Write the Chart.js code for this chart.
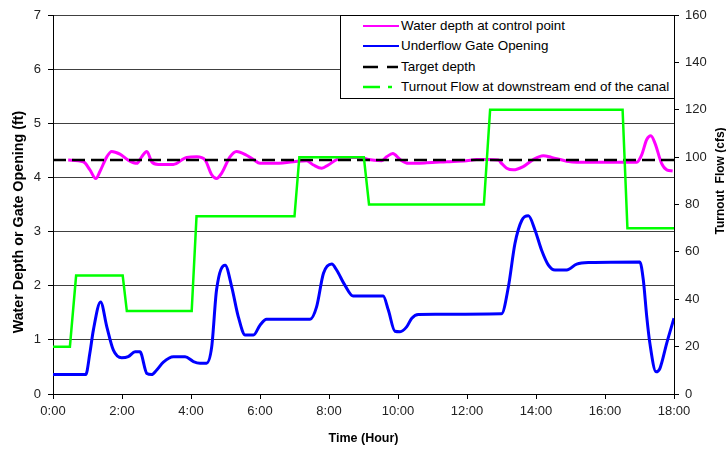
<!DOCTYPE html>
<html>
<head>
<meta charset="utf-8">
<script src="https://cdn.jsdelivr.net/npm/chart.js@4.4.1/dist/chart.umd.min.js"></script>
<style>
  html, body { margin: 0; padding: 0; background: #fff; }
  #wrap { position: relative; width: 726px; height: 450px; font-family: "Liberation Sans", Arial, sans-serif; }
  #legend {
    position: absolute; left: 340px; top: 15px; width: 335px; height: 84px;
    box-sizing: border-box; border: 1px solid #000; background: #fff;
  }
  #legend .row { position: absolute; left: 22px; height: 16px; line-height: 16px; font-size: 13.4px; color: #000; white-space: nowrap; }
  #legend svg { vertical-align: top; margin-right: 2px; }
</style>
</head>
<body>
<div id="wrap">
  <canvas id="chart" width="726" height="450"></canvas>
  <div id="legend"></div>
</div>
<script>
// time in hours
const depthTimes = [0.44, 0.88, 1.07, 1.24, 1.36, 1.56, 1.7, 1.94, 2.18, 2.43, 2.57, 2.72, 2.86, 3.05, 3.49, 3.87, 4.17, 4.41, 4.6, 4.74, 4.89, 5.13, 5.32, 5.61, 5.81, 6.0, 6.39, 6.97, 7.35, 7.55, 7.79, 7.98, 8.22, 8.51, 8.95, 9.14, 9.53, 9.67, 9.85, 10.06, 10.3, 10.83, 11.41, 11.99, 12.28, 12.6, 12.91, 13.0, 13.15, 13.34, 13.63, 13.92, 14.21, 14.45, 14.89, 15.18, 16.92, 17.06, 17.21, 17.33, 17.45, 17.64, 17.79, 17.96];
const depthValues = [4.32, 4.29, 4.14, 3.98, 4.11, 4.38, 4.48, 4.43, 4.32, 4.26, 4.38, 4.48, 4.29, 4.24, 4.24, 4.37, 4.38, 4.32, 4.05, 3.98, 4.08, 4.38, 4.48, 4.41, 4.33, 4.26, 4.26, 4.29, 4.31, 4.23, 4.17, 4.23, 4.33, 4.37, 4.37, 4.33, 4.31, 4.38, 4.44, 4.33, 4.26, 4.27, 4.29, 4.31, 4.33, 4.33, 4.32, 4.26, 4.17, 4.14, 4.20, 4.33, 4.40, 4.37, 4.30, 4.28, 4.28, 4.41, 4.70, 4.77, 4.63, 4.26, 4.14, 4.12];

const gateTimes = [0, 0.95, 1.07, 1.17, 1.38, 1.56, 1.75, 1.99, 2.18, 2.38, 2.52, 2.72, 2.86, 3.0, 3.2, 3.49, 3.83, 4.07, 4.26, 4.45, 4.6, 4.74, 4.99, 5.18, 5.37, 5.57, 5.81, 6.0, 6.19, 7.45, 7.64, 7.84, 8.08, 8.22, 8.46, 8.7, 9.57, 9.72, 9.91, 10.06, 10.25, 10.4, 10.59, 13.0, 13.2, 13.39, 13.59, 13.78, 13.97, 14.16, 14.36, 14.55, 14.89, 15.18, 15.57, 17.01, 17.11, 17.21, 17.3, 17.48, 17.59, 17.79, 18.0];
const gateValues = [0.36, 0.36, 0.76, 1.18, 1.70, 1.24, 0.81, 0.67, 0.69, 0.78, 0.78, 0.38, 0.36, 0.44, 0.59, 0.69, 0.69, 0.60, 0.57, 0.57, 0.87, 1.92, 2.38, 1.98, 1.43, 1.09, 1.09, 1.27, 1.38, 1.38, 1.61, 2.23, 2.40, 2.29, 2.01, 1.81, 1.81, 1.55, 1.16, 1.15, 1.24, 1.40, 1.47, 1.48, 1.98, 2.78, 3.21, 3.29, 3.03, 2.66, 2.38, 2.29, 2.29, 2.40, 2.43, 2.44, 2.11, 1.43, 0.94, 0.41, 0.47, 0.94, 1.40];

const targetTimes = [0, 18];
const targetValues = [4.32, 4.32];

const flowTimes = [0, 0.49, 0.67, 2.02, 2.14, 4.02, 4.16, 7.0, 7.14, 9.01, 9.16, 12.49, 12.67, 16.51, 16.65, 18];
const flowValues = [20, 20, 50, 50, 35, 35, 75, 75, 100, 100, 80, 80, 120, 120, 70, 70];

const xTicks = [0, 2, 4, 6, 8, 10, 12, 14, 16, 18];

const seriesNames = ['Water depth at control point', 'Underflow Gate Opening', 'Target depth', 'Turnout Flow at downstream end of the canal'];
const seriesColors = ['#ff00ff', '#0000ff', '#000000', '#00ff00'];

const pts = (xs, ys) => xs.map((x, i) => ({ x: x, y: ys[i] }));
const FONT = '"Liberation Sans", Arial, sans-serif';

// titles drawn by hand so they read bottom-to-top on both sides like the original
const sideTitles = {
    id: 'sideTitles',
    afterDraw(chart) {
        const ctx = chart.ctx;
        ctx.save();
        ctx.fillStyle = '#000';
        ctx.textAlign = 'center';
        ctx.textBaseline = 'middle';
        ctx.font = 'bold 14.3px ' + FONT;
        ctx.translate(19, 222);
        ctx.rotate(-Math.PI / 2);
        ctx.fillText('Water Depth or Gate Opening (ft)', 0, 0);
        ctx.restore();
        ctx.save();
        ctx.fillStyle = '#000';
        ctx.textAlign = 'center';
        ctx.textBaseline = 'middle';
        ctx.font = 'bold 12px ' + FONT;
        ctx.translate(721, 181);
        ctx.rotate(-Math.PI / 2);
        ctx.fillText('Turnout  Flow (cfs)', 0, 0);
        ctx.restore();
    }
};

Chart.defaults.font.family = FONT;
Chart.defaults.font.size = 13;
Chart.defaults.color = '#222';

new Chart(document.getElementById('chart'), {
    type: 'line',
    data: {
        datasets: [
            { label: seriesNames[3], data: pts(flowTimes, flowValues), yAxisID: 'y1', borderColor: seriesColors[3], borderWidth: 2.5, tension: 0, pointRadius: 0 },
            { label: seriesNames[2], data: pts(targetTimes, targetValues), yAxisID: 'y', borderColor: seriesColors[2], borderWidth: 2.5, borderDash: [13, 6], pointRadius: 0 },
            { label: seriesNames[1], data: pts(gateTimes, gateValues), yAxisID: 'y', borderColor: seriesColors[1], borderWidth: 3, cubicInterpolationMode: 'monotone', pointRadius: 0 },
            { label: seriesNames[0], data: pts(depthTimes, depthValues), yAxisID: 'y', borderColor: seriesColors[0], borderWidth: 3, cubicInterpolationMode: 'monotone', pointRadius: 0 }
        ]
    },
    options: {
        responsive: false,
        animation: false,
        devicePixelRatio: 1,
        layout: { padding: { top: 15, left: 0, right: 0, bottom: 0 } },
        plugins: { legend: { display: false }, tooltip: { enabled: false } },
        scales: {
            x: {
                type: 'linear', min: 0, max: 18,
                afterBuildTicks: s => { s.ticks = xTicks.map(v => ({ value: v })); },
                afterFit: s => { s.height = 56; },
                ticks: { callback: v => v + ':00', padding: 5, maxRotation: 0 },
                grid: { drawOnChartArea: false, tickLength: 5, tickColor: '#000' },
                border: { color: '#000', width: 1 },
                title: { display: true, text: 'Time (Hour)', color: '#000', font: { size: 12.5, weight: 'bold' }, padding: { top: 4, bottom: 4 } }
            },
            y: {
                position: 'left', min: 0, max: 7,
                afterFit: s => { s.width = 53; },
                ticks: { stepSize: 1, padding: 7 },
                grid: { color: '#404040', lineWidth: 1, tickLength: 5, tickColor: '#000' },
                border: { color: '#000', width: 1 }
            },
            y1: {
                position: 'right', min: 0, max: 160,
                afterFit: s => { s.width = 52; },
                ticks: { stepSize: 20, padding: 6 },
                grid: { drawOnChartArea: false, tickLength: 5, tickColor: '#000' },
                border: { color: '#000', width: 1 }
            }
        }
    },
    plugins: [sideTitles]
});

// legend box (Excel style, inside the plot)
const legendDash = [null, null, '15 9 11 40', '17 8 4 40'];
const legendTops = [2, 22, 43, 63];
document.getElementById('legend').innerHTML = seriesNames.map((name, i) => `
    <div class="row" style="top:${legendTops[i]}px">
        <svg width="36" height="16"><line x1="0" y1="8" x2="36" y2="8" stroke="${seriesColors[i]}" stroke-width="${i < 2 ? 2 : 2.5}" ${legendDash[i] ? `stroke-dasharray="${legendDash[i]}"` : ''}/></svg><span>${name}</span>
    </div>`).join('');
</script>
</body>
</html>
